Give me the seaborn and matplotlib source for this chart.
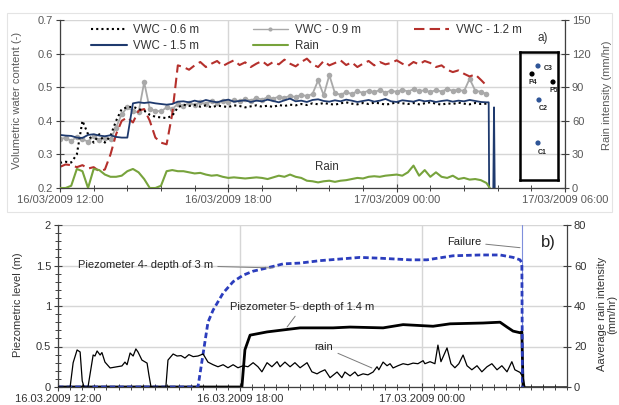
import numpy as np
import pandas as pd
import matplotlib
matplotlib.use("Agg")
import matplotlib.pyplot as plt
import matplotlib.dates as mdates
from matplotlib.ticker import MultipleLocator, FormatStrFormatter
from matplotlib.lines import Line2D
from matplotlib.patches import Rectangle
import seaborn as sns

# ============================================================
# Slope monitoring: VWC (a) and piezometers (b) vs rain
# ============================================================

sns.set_theme(style="white")
plt.rcParams["font.family"] = ["Liberation Sans", "DejaVu Sans"]

start = pd.Timestamp("2009-03-16 12:00")

# ===== DATA: panel a), 12-min samples from 16/03 12:00 =====
vwc_time = pd.date_range(start, periods=77, freq="12min")

vwc_06 = [0.275, 0.278, 0.276, 0.300, 0.400, 0.360, 0.335, 0.360, 0.335, 0.355,
          0.400, 0.435, 0.440, 0.442, 0.435, 0.430, 0.418, 0.412, 0.410, 0.408,
          0.415, 0.440,
          0.448, 0.444, 0.447, 0.442, 0.446, 0.440, 0.445, 0.443, 0.441, 0.446,
          0.444, 0.440, 0.443, 0.446, 0.442, 0.445, 0.441, 0.447, 0.444, 0.448,
          0.446, 0.450, 0.447, 0.452, 0.449, 0.453, 0.450, 0.448, 0.452, 0.455,
          0.451, 0.449, 0.453, 0.450, 0.454, 0.452, 0.448, 0.451, 0.455, 0.452,
          0.450, 0.453, 0.449, 0.452, 0.455, 0.451, 0.448, 0.452, 0.450, 0.454,
          0.451, 0.449, 0.453, 0.450, 0.451]

vwc_09 = [0.345, 0.350, 0.340, 0.352, 0.345, 0.338, 0.355, 0.342, 0.350, 0.345,
          0.380, 0.420, 0.440, 0.430, 0.425, 0.515, 0.435, 0.430, 0.428, 0.440,
          0.435, 0.450,
          0.445, 0.452, 0.448, 0.455, 0.450, 0.458, 0.453, 0.460, 0.456, 0.462,
          0.458, 0.465, 0.460, 0.468, 0.463, 0.470, 0.466, 0.472, 0.468, 0.475,
          0.470, 0.478, 0.473, 0.480, 0.520, 0.476, 0.536, 0.482, 0.478, 0.485,
          0.480, 0.488, 0.483, 0.490, 0.485, 0.492, 0.484, 0.490, 0.486, 0.493,
          0.487, 0.494, 0.488, 0.491, 0.485, 0.492, 0.487, 0.495, 0.489, 0.493,
          0.488, 0.525, 0.490, 0.486, 0.480]

vwc_12 = [0.263, 0.270, 0.268, 0.262, 0.268, 0.258, 0.262, 0.250, 0.255, 0.300,
          0.360, 0.400, 0.410, 0.395, 0.430, 0.435, 0.400, 0.350, 0.335, 0.330,
          0.420, 0.565,
          0.560, 0.552, 0.565, 0.575, 0.560, 0.570, 0.578, 0.563, 0.572, 0.580,
          0.566, 0.574, 0.560, 0.570, 0.578, 0.565, 0.575, 0.568, 0.582, 0.570,
          0.562, 0.575, 0.585, 0.568, 0.560, 0.578, 0.565, 0.572, 0.580, 0.566,
          0.574, 0.560, 0.570, 0.578, 0.565, 0.575, 0.568, 0.572, 0.580, 0.570,
          0.563, 0.575, 0.568, 0.578, 0.572, 0.560, 0.565, 0.552, 0.545, 0.550,
          0.540, 0.532, 0.538, 0.522, 0.505]

vwc_15 = [0.358, 0.356, 0.355, 0.350, 0.349, 0.358, 0.360, 0.356, 0.354, 0.357,
          0.352, 0.350, 0.350, 0.452, 0.455, 0.453, 0.455, 0.452, 0.450, 0.448,
          0.450, 0.457,
          0.458, 0.455, 0.460, 0.456, 0.462, 0.458, 0.455, 0.460, 0.463, 0.457,
          0.459, 0.461, 0.456, 0.460, 0.458, 0.463, 0.459, 0.455, 0.461, 0.466,
          0.458, 0.460, 0.456, 0.462, 0.464, 0.459, 0.457, 0.461, 0.458, 0.463,
          0.460, 0.456, 0.459, 0.462, 0.457, 0.460, 0.465, 0.458, 0.456, 0.461,
          0.459, 0.457, 0.462, 0.458, 0.460, 0.456, 0.459, 0.461, 0.457, 0.460,
          0.458, 0.462, 0.459, 0.456, 0.455]

rain_top = [0, 0, 2, 17, 15, 0, 17, 16, 12, 10,
            10, 11, 15, 17, 14, 8, 0, 0, 2, 15,
            16, 15, 15, 14, 13, 13.5, 12, 11, 11.5, 10,
            9, 9.5, 9, 8.5, 9, 9.5, 9, 8, 9.5, 11,
            10, 12, 10, 9, 6.5, 6, 5, 6, 6.5, 5.5,
            6.5, 7, 8, 9, 8.5, 10, 10.5, 10, 11, 11.5,
            12, 11, 14, 20, 11, 16, 10, 14, 10, 9,
            11, 8, 9, 7.5, 8, 7, 4.5]

# sensor failure: readings after the last regular sample (hours from start)
fail_hours = [15.28, 15.30, 15.44, 15.47, 15.50]
fail_vwc_15 = [0.455, 0.15, 0.15, 0.44, 0.15]
rain_top_end_hours = [15.32]
rain_top_end = [0]

# ===== DATA: panel b) (hours from 16.03 12:00) =====
p4_hours = [0, 4.62, 4.95, 5.12, 5.45, 5.78, 6.11, 6.44, 6.9, 7.43, 7.99, 8.65,
            9.97, 10.63, 11.62, 12.18, 13.04, 13.93, 14.59, 15.02, 15.25, 15.31, 15.33]
p4_level = [0, 0, 0.80, 0.95, 1.16, 1.30, 1.38, 1.43, 1.47, 1.52, 1.53, 1.56,
            1.60, 1.59, 1.57, 1.57, 1.62, 1.63, 1.63, 1.60, 1.57, 1.53, 0]

p5_hours = [0, 6.07, 6.17, 6.34, 6.9, 7.99, 9.08, 9.64, 10.73, 11.39, 12.38,
            12.94, 14.03, 14.59, 14.82, 15.02, 15.25, 15.31, 15.35]
p5_level = [0, 0, 0.46, 0.64, 0.68, 0.73, 0.73, 0.74, 0.73, 0.77, 0.75,
            0.78, 0.79, 0.80, 0.74, 0.69, 0.67, 0.68, 0]

rain_b_hours = [0, 0.40, 0.50, 0.63, 0.73, 0.80, 0.86, 0.99, 1.16, 1.22,
                1.29, 1.39, 1.45, 1.55, 1.72, 1.95, 2.11, 2.21, 2.28, 2.38,
                2.48, 2.57, 2.64, 2.77, 2.94, 3.00, 3.07, 3.56, 3.63, 3.80,
                3.93, 4.06, 4.19, 4.32, 4.46, 4.62, 4.79, 4.95, 5.12, 5.28,
                5.45, 5.61, 5.78, 5.94, 6.11, 6.27, 6.44, 6.60, 6.73, 6.90,
                7.06, 7.23, 7.33, 7.49, 7.66, 7.82, 7.99, 8.22, 8.38, 8.55,
                8.65, 8.81, 8.98, 9.21, 9.37, 9.47, 9.64, 9.80, 9.90, 10.07,
                10.23, 10.40, 10.53, 10.59, 10.73, 10.86, 10.96, 11.06, 11.22, 11.39,
                11.55, 11.72, 11.88, 12.05, 12.11, 12.28, 12.44, 12.54, 12.64, 12.84,
                12.97, 13.10, 13.23, 13.37, 13.50, 13.66, 13.83, 13.99, 14.16, 14.32,
                14.49, 14.65, 14.82, 14.98, 15.08, 15.25, 15.35, 15.41, 16.8]
rain_b_mm = [0, 0, 12, 18.3, 17.3, 3, 0, 0, 15.8, 15.3,
             17.8, 15.8, 17, 12.3, 9.4, 10, 10.4, 12.3, 11, 16.8,
             15.3, 18.8, 17.3, 13.3, 11.8, 6, 0, 0, 13.3, 16.3,
             15.3, 15.5, 14.3, 16, 15, 15.3, 16.3, 12.3, 11, 10,
             11, 9.5, 11, 9.5, 10.5, 10, 12, 10, 7.5, 12,
             10, 12.5, 10, 12.3, 10, 12, 9.5, 12, 7.5, 6.5,
             7.4, 8.5, 4.6, 7.4, 4.6, 7.4, 5.5, 7.4, 5.5, 6.5,
             6, 7.4, 10, 8.5, 12.3, 10.5, 11.5, 9.4, 10.5, 11.5,
             11, 11.8, 11.5, 13, 11.5, 12.5, 11.5, 20.7, 12.5, 19.3,
             11.5, 9.5, 11.5, 15.8, 10.5, 8.5, 10.5, 7.5, 10, 11.5,
             8.5, 10.5, 7.5, 12.5, 8.5, 7.2, 4.8, 0, 0]

failure_hour = 15.31

# inset sketch of sensor layout (inset box units)
sensor_names = ["C3", "P4", "P5", "C2", "C1"]
sensor_x = [18, 12, 33, 19, 18]
sensor_y = [14, 22, 30, 48, 91]
sensor_colors = ["#2f5597", "black", "black", "#2f5597", "#2f5597"]

# ===== STYLE =====
c06 = "black"
c09 = "#a9a9a9"
c12 = "#b5302c"
c15 = "#1f3a6e"
c_rain = "#77a33c"
c_p4 = "#2b3dbd"
grid_c = "#d6d6d6"
spine_c = "#404040"
label_c = "#595959"
tick_fs = 8
label_fs = 8


def to_time(hours):
    return start + pd.to_timedelta(np.asarray(hours, dtype=float), unit="h")


def tnum(h):
    return mdates.date2num(start + pd.Timedelta(hours=h))


W, H = 619, 405


def px_box(x0, y0, x1, y1):
    return [x0 / W, 1 - y1 / H, (x1 - x0) / W, (y1 - y0) / H]


def style_axes(ax, twin, minor_days):
    ax.grid(True, which="major", color=grid_c, lw=1.0)
    ax.set_axisbelow(True)
    for s in ["top", "right"]:
        ax.spines[s].set_visible(False)
    for s in ["left", "bottom"]:
        ax.spines[s].set_color(spine_c)
        ax.spines[s].set_linewidth(0.9)
    for s in ["top", "left", "bottom"]:
        twin.spines[s].set_visible(False)
    twin.spines["right"].set_color(spine_c)
    twin.spines["right"].set_linewidth(0.9)
    ax.xaxis.set_major_locator(MultipleLocator(0.25))
    ax.xaxis.set_minor_locator(MultipleLocator(minor_days))
    for a in (ax, twin):
        a.tick_params(which="major", direction="inout", length=6, width=0.8,
                      color=spine_c, labelsize=tick_fs, labelcolor=label_c, pad=2)
        a.tick_params(which="minor", direction="inout", length=4, width=0.7,
                      color=spine_c)
        a.set_xlabel("")
        a.set_ylabel("")
    ax.tick_params(axis="x", which="both", bottom=True)
    ax.tick_params(axis="y", which="both", left=True)
    twin.tick_params(axis="y", which="both", right=True)


fig = plt.figure(figsize=(6.19, 4.05), dpi=100)

# faint frame around panel a)
fig.patches.append(Rectangle((7 / W, 1 - 212 / H), 605 / W, 199 / H,
                             transform=fig.transFigure, fill=False,
                             edgecolor="#e4e4e4", lw=0.8))

# ===== PANEL a) =====
ax1 = fig.add_axes(px_box(60, 20, 565, 188))
ax2 = ax1.twinx()

sns.lineplot(x=vwc_time, y=vwc_09, ax=ax1, color=c09, lw=1.3, marker="o",
             markersize=4, markeredgewidth=0, legend=False)
sns.lineplot(x=vwc_time, y=vwc_12, ax=ax1, color=c12, lw=1.5,
             linestyle=(0, (5, 2.5)), legend=False)
sns.lineplot(x=vwc_time, y=vwc_06, ax=ax1, color=c06, lw=1.5,
             linestyle=(0, (1, 1.5)), legend=False)
blue_time = vwc_time.append(to_time(fail_hours))
sns.lineplot(x=blue_time, y=vwc_15 + fail_vwc_15, ax=ax1, color=c15, lw=1.3,
             legend=False, sort=False)
rain_time = vwc_time.append(to_time(rain_top_end_hours))
sns.lineplot(x=rain_time, y=rain_top + rain_top_end, ax=ax2, color=c_rain, lw=1.5,
             legend=False)

ax1.set_xlim(start, start + pd.Timedelta(hours=18))
ax1.set_ylim(0.2, 0.7)
ax1.yaxis.set_major_locator(MultipleLocator(0.1))
ax1.yaxis.set_major_formatter(FormatStrFormatter("%.1f"))
ax2.set_ylim(0, 150)
ax2.yaxis.set_major_locator(MultipleLocator(30))
style_axes(ax1, ax2, 0.05)
ax1.xaxis.set_major_formatter(mdates.DateFormatter("%d/%m/%Y %H:%M"))

handles = [
    Line2D([], [], color=c06, lw=1.5, linestyle=(0, (1, 1.5))),
    Line2D([], [], color=c15, lw=1.5),
    Line2D([], [], color=c09, lw=1.0, marker="o", markersize=3, markeredgewidth=0),
    Line2D([], [], color=c_rain, lw=1.5),
    Line2D([], [], color=c12, lw=1.5, linestyle=(0, (5, 2.5))),
]
labels = ["VWC - 0.6 m", "VWC - 1.5 m", "VWC - 0.9 m", "Rain", "VWC - 1.2 m"]
leg = ax2.legend(handles, labels, ncol=3, loc="upper left",
                 bbox_to_anchor=(0.062, 0.975), frameon=False, fontsize=8.3,
                 handlelength=3.1, handletextpad=0.55, columnspacing=4.6,
                 labelspacing=0.3, borderpad=0, borderaxespad=0)
for t in leg.get_texts():
    t.set_color("#333333")

ax1.text(tnum(9.5), 0.262, "Rain", fontsize=8.3, color="#333333",
         ha="center", va="center")
ax1.text(tnum(17.2), 0.646, "a)", fontsize=8.5, color="#333333",
         ha="center", va="center")

# sensor layout inset
ins = fig.add_axes(px_box(520, 52, 558, 180))
ins.set_xlim(0, 38)
ins.set_ylim(128, 0)
ins.set_xticks([])
ins.set_yticks([])
ins.patch.set_alpha(0)
for s in ins.spines.values():
    s.set_color("black")
    s.set_linewidth(1.8)
sns.scatterplot(x=sensor_x, y=sensor_y, ax=ins, hue=sensor_names,
                palette=dict(zip(sensor_names, sensor_colors)), s=14,
                linewidth=0, legend=False)
for n, x, y in zip(sensor_names, sensor_x, sensor_y):
    dx = 10 if n == "C3" else (1 if n[0] == "P" else 4)
    ins.text(x + dx, y + 9 if n != "C3" else y + 3, n, fontsize=5,
             fontweight="bold", color="#222222", ha="center", va="center")

# ===== PANEL b) =====
ax3 = fig.add_axes(px_box(58, 225, 567, 387))
ax4 = ax3.twinx()

ax3.axvline(tnum(failure_hour), color="#7f8fdc", lw=0.8, zorder=1)
sns.lineplot(x=to_time(p5_hours), y=p5_level, ax=ax3, color="black", lw=2.0,
             legend=False)
sns.lineplot(x=to_time(p4_hours), y=p4_level, ax=ax3, color=c_p4, lw=2.0,
             linestyle=(0, (2.0, 1.1)), legend=False)
sns.lineplot(x=to_time(rain_b_hours), y=rain_b_mm, ax=ax4, color="black", lw=0.9,
             legend=False)

ax3.set_xlim(start, start + pd.Timedelta(hours=16.8))
ax3.set_ylim(0, 2)
ax3.yaxis.set_major_locator(MultipleLocator(0.5))
ax3.yaxis.set_minor_locator(MultipleLocator(0.1))
ax3.yaxis.set_major_formatter(FormatStrFormatter("%g"))
ax4.set_ylim(0, 80)
ax4.yaxis.set_major_locator(MultipleLocator(20))
style_axes(ax3, ax4, 1 / 60)
ax3.xaxis.set_major_formatter(mdates.DateFormatter("%d.%m.%Y %H:%M"))
ax3.tick_params(labelcolor="#333333")
ax4.tick_params(labelcolor="#333333")

arrow = dict(arrowstyle="-", color="#7a7a7a", lw=0.7, shrinkA=1, shrinkB=0)
ax3.annotate("Piezometer 4- depth of 3 m", xy=(tnum(7.1), 1.47),
             xytext=(tnum(0.66), 1.51), fontsize=8, color="#222222",
             ha="left", va="center", arrowprops=arrow)
ax3.annotate("Piezometer 5- depth of 1.4 m", xy=(tnum(7.56), 0.74),
             xytext=(tnum(5.68), 0.99), fontsize=8, color="#222222",
             ha="left", va="center", arrowprops=arrow)
ax3.annotate("rain", xy=(tnum(10.36), 0.235), xytext=(tnum(8.78), 0.49),
             fontsize=8, color="#222222", ha="center", va="center",
             arrowprops=arrow)
ax3.annotate("Failure", xy=(tnum(15.25), 1.72), xytext=(tnum(13.4), 1.79),
             fontsize=8, color="#222222", ha="center", va="center",
             arrowprops=arrow)
ax3.text(tnum(16.17), 1.78, "b)", fontsize=12, color="#222222",
         ha="center", va="center")

# ===== AXIS LABELS =====
fig.text(17 / W, 1 - 100 / H, "Volumetric water content (-)", rotation=90,
         ha="center", va="center", fontsize=label_fs, color=label_c)
fig.text(607 / W, 1 - 95 / H, "Rain intensity (mm/hr)", rotation=90,
         ha="center", va="center", fontsize=label_fs, color=label_c)
fig.text(18 / W, 1 - 305 / H, "Piezometric level (m)", rotation=90,
         ha="center", va="center", fontsize=label_fs, color="#333333")
fig.text(607 / W, 1 - 314 / H, "Aaverage rain intensity\n(mm/hr)", rotation=90,
         ha="center", va="center", fontsize=label_fs, color="#333333",
         multialignment="center", linespacing=1.0)

fig.savefig("out.png", dpi=100)
